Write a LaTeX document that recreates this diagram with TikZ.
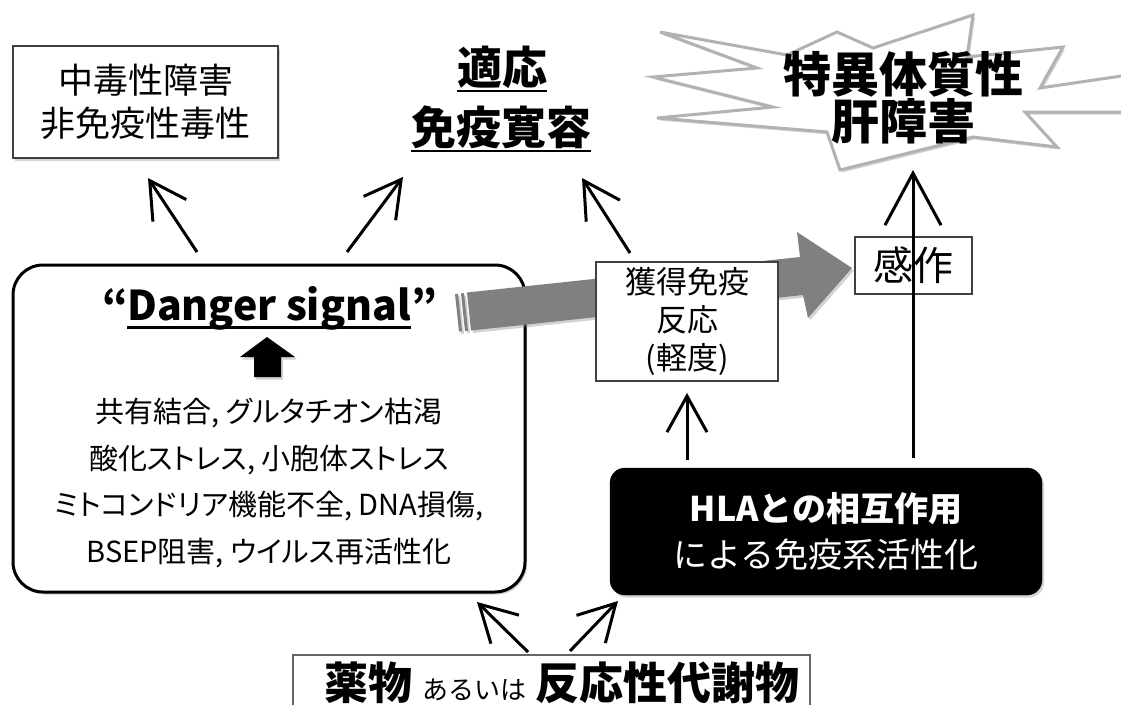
\documentclass[tikz,border=0pt]{standalone}
\usepackage{fontspec}
\setmainfont{Noto Sans CJK JP}
\newfontfamily\jpp{Noto Sans CJK JP}[RawFeature=+palt]
\usetikzlibrary{arrows.meta,shadows}
\newcommand{\ulword}[1]{\setbox0\hbox{#1}\rlap{\rule[-8.5pt]{\wd0}{2.5pt}}\box0}
\begin{document}
\begin{tikzpicture}[x=1pt,y=-1pt,
  every node/.style={inner sep=0pt,outer sep=0pt},
  arr/.style={line width=3pt,-{Straight Barb[length=36pt,width=40pt,line width=3pt]}},
  bigarr/.style={line width=3pt,-{Straight Barb[length=52pt,width=56pt,line width=3pt]}},
  shad/.style={drop shadow={shadow xshift=2pt,shadow yshift=-2.5pt,opacity=0.35}},
  thinbox/.style={draw=black!75,line width=1.5pt,fill=white},
  ul/.style={line width=2.5pt}
]
\useasboundingbox (0,0) rectangle (1121,704);

% starburst
\draw[draw=gray!60,line width=3pt,fill=white,shad]
  (660,32) -- (787,55) -- (837,32) -- (873,48) -- (973,15) -- (967,57) -- (1063,47)
  -- (1040,88) -- (1135,74) -- (1135,112) -- (1025,112) -- (1057,147) -- (973,137)
  -- (840,170) -- (827,132) -- (657,118) -- (773,107) -- (653,77) -- (757,68) -- cycle;
\node[font=\bfseries\fontsize{48}{47}\selectfont,align=center] (idio) at (903,98) {特異体質性\\肝障害};

% top left box
\node[thinbox,line width=2pt,shad,minimum width=265pt,minimum height=112pt,
      font=\fontsize{35}{43}\selectfont,align=center] (tox) at (145.5,102) {中毒性障害\\非免疫性毒性};

% tolerance
\node[font=\bfseries\fontsize{45}{45}\selectfont] (tol1) at (502,67) {適応};
\node[font=\bfseries\fontsize{45}{45}\selectfont] (tol2) at (501,127) {免疫寛容};
\draw[ul] ([yshift=-7pt]tol1.base west) -- ([yshift=-7pt]tol1.base east);
\draw[ul] ([yshift=-7pt]tol2.base west) -- ([yshift=-7pt]tol2.base east);

% danger box
\node[draw,line width=3pt,rounded corners=30pt,fill=white,shad,
      minimum width=512pt,minimum height=327pt] (danger) at (269,428.5) {};
\node[anchor=base,font=\bfseries\fontsize{41}{41}\selectfont] (dsig) at (270,320)
  {“\kern-1pt\ulword{Danger signal}\kern1pt”};
\fill[shad] (267,337) -- (295,357) -- (281,357) -- (281,377) -- (254,377) -- (254,357) -- (240,357) -- cycle;
\node[font=\jpp\fontsize{29}{46.7}\selectfont,align=center] (dtext) at (269,483)
  {共有結合, グルタチオン枯渇\\酸化ストレス, 小胞体ストレス\\ミトコンドリア機能不全, DNA損傷,\\BSEP阻害, ウイルス再活性化};

% big gray arrow
\fill[gray,shad] (455,294) -- (458,293.7) -- (462,331.3) -- (459,331.6) -- cycle;
\fill[gray,shad] (461,293.4) -- (464,293.1) -- (468,330.7) -- (465,331) -- cycle;
\fill[gray,shad] (467,292.5) -- (800,257) -- (797,232) -- (852,268) -- (808,318) -- (803,295) -- (471,330.5) -- cycle;

% acquired immunity box
\node[thinbox,minimum width=182pt,minimum height=119pt,align=center,
      font=\fontsize{31}{38}\selectfont] (acq) at (687,321.5) {獲得免疫\\反応\\(軽度)};
% sensitization
\node[thinbox,minimum width=117pt,minimum height=57pt,
      font=\fontsize{40}{40}\selectfont] (sens) at (913.5,265.5) {感作};

% HLA box
\node[fill=black,draw=black,rounded corners=15pt,shad,minimum width=432pt,minimum height=127pt,
      text=white,align=center,font=\fontsize{34}{46}\selectfont] (hla) at (826,531.5)
  {\textbf{HLAとの相互作用}\\による免疫系活性化};

% drug box
\node[thinbox,draw=black!60,minimum width=517pt,minimum height=70pt] (drug) at (551.5,690) {};
\node[anchor=base] (drugt) at (562,699)
  {\fontsize{44}{44}\selectfont\textbf{薬物} {\fontsize{26}{26}\selectfont あるいは} \textbf{反応性代謝物}};

% arrow end points
\coordinate (a1s) at (197,252); \coordinate (a1e) at (148,178);
\coordinate (a2s) at (347,252); \coordinate (a2e) at (403,177);
\coordinate (a3s) at (630,253); \coordinate (a3e) at (582,178);
\coordinate (a4s) at (687,460); \coordinate (a4e) at (687,393);
\coordinate (a5s) at (913,458); \coordinate (a5e) at (913,170);
\coordinate (a6s) at (528,652); \coordinate (a6e) at (477,602);
\coordinate (a7s) at (570,651); \coordinate (a7e) at (618,601);

\draw[arr] (a1s) -- (a1e);
\draw[arr] (a2s) -- (a2e);
\draw[arr] (a3s) -- (a3e);
\draw[arr] (a4s) -- (a4e);
\draw[bigarr] (a5s) -- (a5e);
\draw[arr] (a6s) -- (a6e);
\draw[arr] (a7s) -- (a7e);
\end{tikzpicture}
\end{document}
